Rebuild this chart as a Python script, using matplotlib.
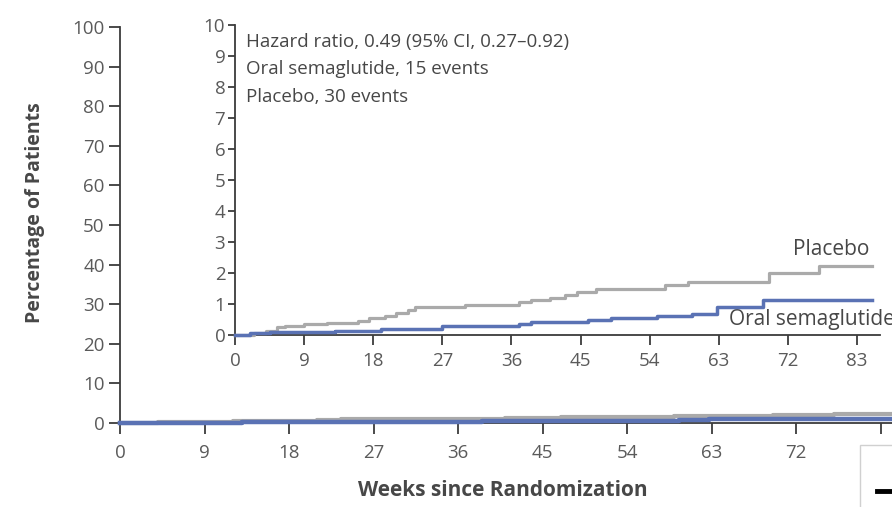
import matplotlib
matplotlib.use("Agg")
import matplotlib.pyplot as plt
from matplotlib.lines import Line2D

# Cumulative incidence (%) step change points, weeks since randomization
placebo_weeks = [0, 2.5, 4, 5.5, 6.5, 9, 12, 16, 17.5, 19.5, 21, 22.5, 23.5, 30,
                 37, 38.5, 41, 43, 44.5, 47, 56, 59, 69.5, 76, 83]
placebo_pct = [0, 0.06, 0.13, 0.25, 0.30, 0.35, 0.40, 0.45, 0.55, 0.62, 0.72, 0.82,
               0.90, 0.98, 1.05, 1.12, 1.20, 1.28, 1.38, 1.50, 1.62, 1.72, 2.00,
               2.22, 2.22]

sema_weeks = [0, 2, 4.5, 13, 19, 27, 37, 38.5, 46, 49, 55, 59.5, 62.7, 68.7, 83]
sema_pct = [0, 0.05, 0.10, 0.13, 0.20, 0.28, 0.35, 0.42, 0.48, 0.55, 0.60, 0.68,
            0.90, 1.13, 1.13]

main_yticks = [0, 10, 20, 30, 40, 50, 60, 70, 80, 90, 100]
inset_yticks = [0, 1, 2, 3, 4, 5, 6, 7, 8, 9, 10]
week_ticks = [0, 9, 18, 27, 36, 45, 54, 63, 72, 81]
week_labels = ["0", "9", "18", "27", "36", "45", "54", "63", "72", "83"]

annotation = ["Hazard ratio, 0.49 (95% CI, 0.27\u20130.92)",
              "Oral semaglutide, 15 events",
              "Placebo, 30 events"]

PLACEBO_COLOR = "#aaaaaa"
SEMA_COLOR = "#5a72b4"
AXIS_COLOR = "#3c3c3c"
TICK_TEXT = "#5a5a5a"
TEXT_COLOR = "#474747"
FONT = ["Open Sans", "DejaVu Sans"]

W, H = 892, 507
fig = plt.figure(figsize=(W / 100, H / 100), dpi=100)
fig.patch.set_facecolor("white")


def rect(x0, y_bottom, w, h):
    return [x0 / W, (H - y_bottom) / H, w / W, h / H]


def style_axes(ax, fs):
    for side in ("top", "right"):
        ax.spines[side].set_visible(False)
    for side in ("left", "bottom"):
        ax.spines[side].set_color(AXIS_COLOR)
        ax.spines[side].set_linewidth(1.3)
    ax.tick_params(colors=AXIS_COLOR, labelcolor=TICK_TEXT, width=1.3)
    for lab in ax.get_xticklabels() + ax.get_yticklabels():
        lab.set_family(FONT)
        lab.set_fontsize(fs)


# Main axes (0-100 %), extending past the right edge
MAIN_W = 90 * 9.39
ax = fig.add_axes(rect(120, 423, MAIN_W, 396))
ax.set_xlim(0, 90)
ax.set_ylim(0, 100)
ax.step(placebo_weeks, placebo_pct, where="post", color=PLACEBO_COLOR, lw=3.0,
        clip_on=False, zorder=3)
ax.step(sema_weeks, sema_pct, where="post", color=SEMA_COLOR, lw=3.2,
        clip_on=False, zorder=4)
ax.set_xticks(week_ticks)
ax.set_xticklabels(week_labels)
ax.set_yticks(main_yticks)
ax.tick_params(axis="x", length=8, pad=7)
ax.tick_params(axis="y", length=8, pad=3)
style_axes(ax, 13.5)
ax.set_ylabel("Percentage of Patients", family=FONT, fontsize=14,
              fontweight="bold", color=TEXT_COLOR)
ax.set_xlabel("Weeks since Randomization", family=FONT, fontsize=15,
              fontweight="bold", color=TEXT_COLOR)
ax.yaxis.label.set_va("center")
ax.xaxis.label.set_va("center")
ax.xaxis.set_label_coords((503 - 120) / MAIN_W, -(491 - 423) / 396)
ax.yaxis.set_label_coords(-(120 - 35) / MAIN_W, (423 - 213) / 396)

# Inset axes (0-10 %)
INS_W = 84 * 7.68
ins = fig.add_axes(rect(235, 335, INS_W, 310))
ins.set_facecolor("white")
ins.set_xlim(0, 84)
ins.set_ylim(0, 10)
ins.step(placebo_weeks, placebo_pct, where="post", color=PLACEBO_COLOR, lw=2.3,
         clip_on=False, zorder=3)
ins.step(sema_weeks, sema_pct, where="post", color=SEMA_COLOR, lw=2.5,
         clip_on=False, zorder=4)
ins.set_xticks(week_ticks)
ins.set_xticklabels(week_labels)
ins.set_yticks(inset_yticks)
ins.tick_params(axis="x", length=7, pad=5)
ins.tick_params(axis="y", length=5, pad=2)
style_axes(ins, 13.5)

for i, line in enumerate(annotation):
    ins.text(0.017, 0.945 - i * 0.088, line, transform=ins.transAxes,
             family=FONT, fontsize=13.5, color=TEXT_COLOR, va="center", ha="left")

ins.text(placebo_weeks[-1] - 0.4, placebo_pct[-1] + 0.55, "Placebo", family=FONT,
         fontsize=15, color=TEXT_COLOR, ha="right", va="center")
ins.text(64.3, 0.5, "Oral semaglutide", family=FONT, fontsize=15,
         color=TEXT_COLOR, ha="left", va="center", clip_on=False)

# Legend box partly outside the canvas
fig.legend(handles=[Line2D([], [], color="black", lw=3.5)],
           labels=["Oral semaglutide"], title=" ", loc="upper left",
           bbox_to_anchor=(860 / W, 1 - 445 / H), borderaxespad=0,
           frameon=True, fancybox=False, framealpha=1.0, facecolor="white",
           edgecolor="#d0d0d0", borderpad=1.0, handlelength=2.0,
           prop={"family": FONT, "size": 12},
           title_fontproperties={"family": FONT, "size": 10})

fig.savefig("out.png", dpi=100, facecolor="white")
